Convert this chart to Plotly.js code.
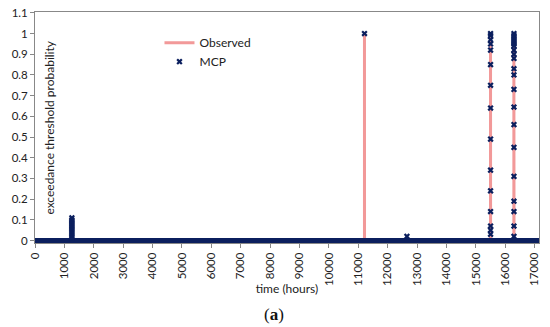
<!DOCTYPE html>
<html>
<head>
<meta charset="utf-8">
<script src="https://cdn.plot.ly/plotly-3.0.1.min.js"></script>
<style>html,body{margin:0;padding:0;background:#fff;}#chart{width:550px;height:327px;}</style>
</head>
<body>
<div id="chart"></div>
<script>
// Observed exceedance (0/1) over time
var obsHours = [0, 11211, 11211, 11213, 11213, 15500, 15500, 15503, 15503, 16295, 16295, 16296, 16296, 16297, 16297, 16298, 16298, 16299, 16299, 16300, 16300, 17150];
var obsProb  = [0, 0,     1,     1,     0,     0,     1,     1,     0,     0,     1,     1,     0,     0,     1,     1,     0,     0,     1,     1,     0,     0];
// MCP baseline (predicted probability 0 at all other hours)
var mcpBaseHours = [0, 17150];
var mcpBaseProb  = [0, 0];
// MCP non-zero predictions
var mcpHours = [1255,1255,1255,1255,1255,1255,1255,1255,1255,1255,1255,
                11212,
                12656,
                15502,15502,15502,15502,15502,15502,15502,15502,15502,15502,15502,15502,15502,15502,15502,
                16298,16298,16298,16298,16298,16298,16298,16298,16298,16298,16298,16298,16298,16298,16298,16298,16298,16298,16298,16298,16298];
var mcpProb  = [0.11,0.10,0.09,0.08,0.07,0.06,0.05,0.04,0.03,0.02,0.01,
                1.0,
                0.02,
                1.0,0.99,0.97,0.95,0.92,0.85,0.75,0.64,0.49,0.34,0.24,0.14,0.07,0.05,0.03,
                1.0,0.99,0.98,0.97,0.96,0.95,0.94,0.92,0.90,0.88,0.83,0.80,0.73,0.645,0.56,0.45,0.31,0.19,0.14,0.07,0.02];
var xTicks = [0,1000,2000,3000,4000,5000,6000,7000,8000,9000,10000,11000,12000,13000,14000,15000,16000,17000];
var yTicks = [0,0.1,0.2,0.3,0.4,0.5,0.6,0.7,0.8,0.9,1,1.1];
var yTickLabels = ['0','0.1','0.2','0.3','0.4','0.5','0.6','0.7','0.8','0.9','1','1.1'];

var navy = '#0b1f5e';
var traces = [
  {x: obsHours, y: obsProb, mode: 'lines', name: 'Observed',
   line: {color: 'rgba(232,70,70,0.55)', width: 3}},
  {x: mcpBaseHours, y: mcpBaseProb, mode: 'lines', showlegend: false, hoverinfo: 'skip',
   line: {color: navy, width: 5}},
  {x: mcpHours, y: mcpProb, mode: 'markers', name: 'MCP',
   marker: {symbol: 'x', size: 5.5, color: navy, line: {width: 0}}, cliponaxis: false}
];

var font = 'Lato';
var layout = {
  width: 550, height: 327,
  margin: {l: 35, r: 11, t: 12, b: 84},
  paper_bgcolor: '#fff', plot_bgcolor: '#fff',
  font: {family: font, size: 11.5, color: '#222'},
  showlegend: true,
  legend: {x: 0.247, y: 0.93, xanchor: 'left', yanchor: 'top', bgcolor: 'rgba(0,0,0,0)',
           font: {size: 12, family: font}, tracegroupgap: 2},
  xaxis: {range: [0, 17150], tickmode: 'array', tickvals: xTicks, ticktext: xTicks.map(String),
          tickangle: -90, ticks: 'outside', ticklen: 4, tickcolor: '#888', automargin: false,
          showline: true, linecolor: '#888', mirror: true, showgrid: false, zeroline: false,
          title: {text: 'time (hours)', font: {size: 12, family: font}}},
  yaxis: {range: [-0.012, 1.104], tickmode: 'array', tickvals: yTicks, ticktext: yTickLabels,
          ticks: 'outside', ticklen: 4, tickcolor: '#888', automargin: false, ticklabeloverflow: 'allow',
          showline: true, linecolor: '#888', mirror: true, showgrid: false, zeroline: false},
  annotations: [
    {text: 'exceedance threshold probability', textangle: -90, xref: 'paper', yref: 'paper',
     x: 0.028, y: 0.5, xanchor: 'center', yanchor: 'middle', showarrow: false,
     font: {size: 12, family: font, color: '#222'}},
    {text: '(<b>a</b>)', xref: 'paper', yref: 'paper', x: 0.475, y: -0.31,
     xanchor: 'center', yanchor: 'middle', showarrow: false,
     font: {size: 17, family: 'Liberation Serif, serif', color: '#111'}}
  ]
};
Plotly.newPlot('chart', traces, layout, {staticPlot: true, displayModeBar: false});
</script>
</body>
</html>
